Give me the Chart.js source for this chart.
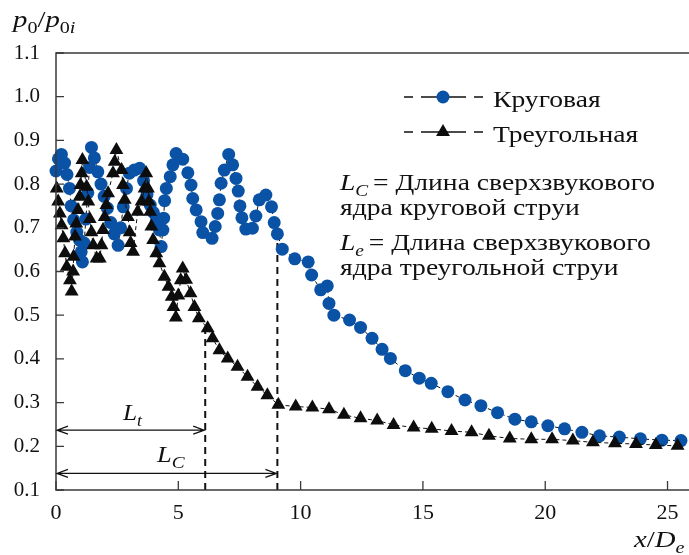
<!DOCTYPE html>
<html>
<head>
<meta charset="utf-8">
<script src="https://cdn.jsdelivr.net/npm/chart.js@4.4.1/dist/chart.umd.min.js"></script>
<style>
html,body{margin:0;padding:0;background:#fff;overflow:hidden;}
#wrap{width:700px;height:555px;position:relative;}
</style>
</head>
<body>
<div id="wrap"><canvas id="c" width="700" height="555"></canvas></div>
<script>
// Круговая (circular jet)
const circX = [0.00,0.10,0.22,0.35,0.45,0.55,0.62,0.72,0.85,0.96,1.03,1.08,1.15,1.22,1.30,1.37,1.45,1.57,1.71,1.84,1.97,2.10,2.24,2.38,2.54,2.64,2.75,2.88,3.00,3.20,3.42,3.58,3.72,3.85,3.98,4.12,4.23,4.30,4.37,4.40,4.44,4.51,4.67,4.78,4.91,5.18,5.39,5.52,5.59,5.73,5.93,6.00,6.38,6.51,6.61,6.68,6.75,6.88,7.06,7.22,7.36,7.45,7.52,7.60,7.76,8.03,8.17,8.31,8.58,8.81,8.92,9.05,9.25,9.76,10.31,10.45,10.82,11.09,11.16,11.36,12.00,12.45,12.92,13.33,13.67,14.28,14.85,15.34,16.02,16.72,17.37,18.05,18.76,19.43,20.11,20.79,21.50,22.22,23.03,23.89,24.77,25.55];
const circY = [0.830,0.858,0.868,0.848,0.822,0.790,0.750,0.718,0.690,0.672,0.645,0.622,0.665,0.720,0.780,0.838,0.884,0.860,0.828,0.800,0.772,0.745,0.712,0.686,0.660,0.700,0.748,0.790,0.825,0.832,0.836,0.808,0.776,0.752,0.735,0.720,0.695,0.657,0.695,0.722,0.762,0.790,0.817,0.844,0.870,0.857,0.826,0.798,0.767,0.741,0.714,0.689,0.676,0.703,0.733,0.764,0.802,0.832,0.868,0.844,0.813,0.784,0.750,0.723,0.697,0.699,0.727,0.764,0.775,0.748,0.712,0.686,0.651,0.629,0.622,0.592,0.558,0.567,0.527,0.500,0.489,0.472,0.447,0.422,0.401,0.373,0.356,0.344,0.325,0.306,0.293,0.277,0.262,0.256,0.247,0.240,0.232,0.224,0.221,0.217,0.214,0.213];

// Треугольная (triangular jet)
const triX = [0.03,0.09,0.16,0.23,0.30,0.37,0.44,0.57,0.64,0.70,0.72,0.78,0.83,0.90,0.97,1.00,1.05,1.08,1.25,1.32,1.38,1.45,1.52,1.66,1.79,1.86,1.92,1.99,2.06,2.13,2.33,2.40,2.47,2.68,2.74,2.81,2.94,3.01,3.05,3.15,3.34,3.50,3.62,3.69,3.76,3.80,3.85,3.90,3.97,4.10,4.23,4.43,4.60,4.73,4.80,4.90,5.00,5.10,5.18,5.32,5.50,5.66,5.84,6.20,6.40,6.68,7.02,7.42,7.83,8.24,8.64,9.09,9.80,10.48,11.16,11.77,12.45,13.13,13.80,14.62,15.36,16.17,16.99,17.70,18.55,19.43,20.28,21.13,21.95,22.85,23.71,24.52,25.41];
const triY = [0.790,0.760,0.733,0.706,0.676,0.642,0.611,0.580,0.554,0.600,0.634,0.680,0.710,0.741,0.771,0.798,0.825,0.855,0.794,0.760,0.720,0.690,0.660,0.630,0.630,0.660,0.695,0.725,0.752,0.779,0.825,0.851,0.878,0.832,0.798,0.764,0.725,0.690,0.665,0.645,0.737,0.760,0.790,0.825,0.790,0.760,0.737,0.703,0.672,0.642,0.619,0.588,0.565,0.542,0.519,0.495,0.545,0.580,0.607,0.581,0.550,0.519,0.493,0.470,0.447,0.420,0.401,0.382,0.359,0.336,0.317,0.295,0.291,0.289,0.285,0.272,0.264,0.259,0.249,0.243,0.240,0.235,0.232,0.224,0.218,0.216,0.216,0.213,0.209,0.207,0.205,0.203,0.201];

// Core lengths (vertical dashed markers) and arrows
const coreX = [6.1, 9.05];
const coreTop = [0.47, 0.71];
const arrowY = [0.237, 0.138];

const seriesLabels = ["Круговая","Треугольная"];
const xTickVals = [0,5,10,15,20,25];
const yTickVals = [0.1,0.2,0.3,0.4,0.5,0.6,0.7,0.8,0.9,1.0,1.1];

const BLUE = '#0a52a5';
const INK = '#0d0d0d';
const SERIF = '"Liberation Serif", "DejaVu Serif", serif';

function pts(xs, ys){ return xs.map((x,i)=>({x:x, y:ys[i]})); }

function rich(ctx, parts, x, y, sx){
  sx = sx || 1;
  ctx.save();
  ctx.translate(x, y);
  ctx.scale(sx, 1);
  let cx = 0;
  for (const p of parts){
    const size = p.sub ? p.size*0.7 : p.size;
    ctx.font = (p.italic?'italic ':'') + size + 'px ' + SERIF;
    const dy = p.sub ? size*0.35 : 0;
    ctx.fillText(p.t, cx, dy);
    cx += ctx.measureText(p.t).width + (p.kern||0);
  }
  ctx.restore();
}

const decor = {
  id:'decor',
  afterDatasetsDraw(chart){
    const ctx = chart.ctx, a = chart.chartArea;
    const xs = chart.scales.x, ys = chart.scales.y;
    ctx.save();
    // frame
    ctx.strokeStyle = '#3a3a3a'; ctx.lineWidth = 1.5; ctx.setLineDash([]);
    ctx.beginPath();
    ctx.moveTo(a.right+5, a.top); ctx.lineTo(a.left, a.top); ctx.lineTo(a.left, a.bottom); ctx.lineTo(a.right+5, a.bottom);
    ctx.stroke();
    // inward ticks
    ctx.lineWidth = 1.3;
    ctx.beginPath();
    yTickVals.forEach(v=>{ const py = ys.getPixelForValue(v); ctx.moveTo(a.left, py); ctx.lineTo(a.left+8, py); });
    xTickVals.forEach(v=>{ const px = xs.getPixelForValue(v); ctx.moveTo(px, a.bottom); ctx.lineTo(px, a.bottom-9); });
    ctx.stroke();
    // arrows
    ctx.strokeStyle = '#111'; ctx.fillStyle = '#111'; ctx.lineWidth = 1.2;
    arrowY.forEach((yv,i)=>{
      const py = ys.getPixelForValue(yv);
      const x0 = xs.getPixelForValue(0)+1, x1 = xs.getPixelForValue(coreX[i])-1;
      ctx.beginPath();
      ctx.moveTo(x0, py); ctx.lineTo(x1, py);
      ctx.moveTo(x0+11, py-4); ctx.lineTo(x0, py); ctx.lineTo(x0+11, py+4);
      ctx.moveTo(x1-11, py-4); ctx.lineTo(x1, py); ctx.lineTo(x1-11, py+4);
      ctx.stroke();
    });
    ctx.textBaseline = 'alphabetic';
    ctx.fillStyle = '#111';
    rich(ctx, [{t:'L',italic:true,size:23},{t:'t',italic:true,sub:true,size:23}], 123, 420, 1.1);
    rich(ctx, [{t:'L',italic:true,size:23},{t:'C',italic:true,sub:true,size:24}], 157, 462, 1.15);
    // legend
    const rows = [{y:97, text:seriesLabels[0], base:107, kind:'circle'},{y:132, text:seriesLabels[1], base:142, kind:'tri'}];
    rows.forEach(r=>{
      ctx.strokeStyle = '#111'; ctx.lineWidth = 1.6;
      ctx.beginPath();
      [[404,413],[421,466],[474,483]].forEach(s=>{ctx.moveTo(s[0], r.y); ctx.lineTo(s[1], r.y);});
      ctx.stroke();
      if (r.kind==='circle'){
        ctx.fillStyle = BLUE; ctx.beginPath(); ctx.arc(443, r.y, 6.5, 0, Math.PI*2); ctx.fill();
      } else {
        ctx.fillStyle = INK; ctx.beginPath();
        const R = 8;
        ctx.moveTo(443, r.y - R); ctx.lineTo(443 + R*0.866, r.y + R*0.5); ctx.lineTo(443 - R*0.866, r.y + R*0.5); ctx.closePath(); ctx.fill();
      }
      ctx.fillStyle = '#111';
      rich(ctx, [{t:r.text,size:23}], 493, r.base, 1.2);
    });
    // annotation text
    ctx.fillStyle = '#111';
    rich(ctx, [{t:'L',italic:true,size:23},{t:'C',italic:true,sub:true,size:23,kern:4},{t:'= Длина сверхзвукового',size:23}], 340, 190, 1.2);
    rich(ctx, [{t:'ядра круговой струи',size:23}], 340, 215, 1.2);
    rich(ctx, [{t:'L',italic:true,size:23},{t:'e',italic:true,sub:true,size:23,kern:4},{t:'= Длина сверхзвукового',size:23}], 340, 250, 1.2);
    rich(ctx, [{t:'ядра треугольной струи',size:23}], 340, 275, 1.2);
    // axis titles
    rich(ctx, [{t:'p',italic:true,size:23},{t:'0',sub:true,size:23},{t:'/',size:23},{t:'p',italic:true,size:23},{t:'0',sub:true,size:23},{t:'i',italic:true,sub:true,size:23}], 13, 27, 1.25);
    rich(ctx, [{t:'x',italic:true,size:23},{t:'/',size:23},{t:'D',italic:true,size:23},{t:'e',italic:true,sub:true,size:23}], 634, 547, 1.25);
    ctx.restore();
  }
};

const vlines = coreX.map((x,i)=>({
  type:'scatter', data:[{x:x,y:0.1},{x:x,y:coreTop[i]}], showLine:true,
  borderColor:'#111', borderWidth:2, borderDash:[7,5], pointRadius:0, order:2, clip:false
}));

new Chart(document.getElementById('c'), {
  type:'scatter',
  data:{ datasets:[
    { label:seriesLabels[1], data:pts(triX,triY), showLine:true, borderColor:'#111', borderWidth:1, borderDash:[4,3],
      pointStyle:'triangle', pointRadius:8, pointBackgroundColor:INK, pointBorderColor:INK, pointBorderWidth:0, order:0, clip:false },
    { label:seriesLabels[0], data:pts(circX,circY), showLine:true, borderColor:'#111', borderWidth:1, borderDash:[4,3],
      pointStyle:'circle', pointRadius:6.5, pointBackgroundColor:BLUE, pointBorderColor:BLUE, pointBorderWidth:0, order:1, clip:false },
    ...vlines
  ]},
  options:{
    responsive:false, animation:false, devicePixelRatio:1,
    layout:{ padding:{ top:53, right:5.4, left:0, bottom:0 } },
    plugins:{ legend:{display:false}, tooltip:{enabled:false} },
    scales:{
      x:{ type:'linear', min:0, max:26,
        afterFit(s){ s.height = 65; },
        grid:{ display:false, drawTicks:false }, border:{ display:false },
        ticks:{ stepSize:5, includeBounds:false, padding:10, color:'#111', font:{ family:SERIF, size:22 } } },
      y:{ type:'linear', min:0.1, max:1.1,
        afterFit(s){ s.width = 56; },
        grid:{ display:false, drawTicks:false }, border:{ display:false },
        ticks:{ stepSize:0.1, padding:16, color:'#111', font:{ family:SERIF, size:21 },
          callback:(v)=>Number(v).toFixed(1) } }
    }
  },
  plugins:[decor]
});
</script>
</body>
</html>
